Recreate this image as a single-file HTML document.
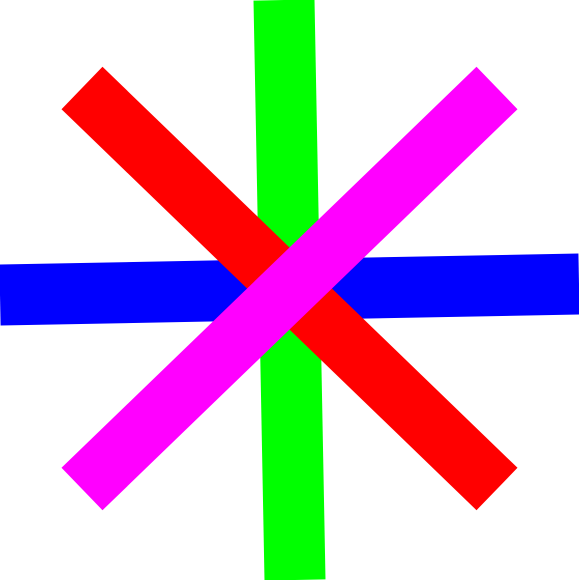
<!DOCTYPE html>
<html>
<head>
<meta charset="utf-8">
<style>
  html, body { margin: 0; padding: 0; background: #ffffff; }
  svg { display: block; }
</style>
</head>
<body>
<svg width="579" height="580" viewBox="0 0 579 580">
  <rect x="0" y="0" width="579" height="580" fill="#ffffff"/>
  <line x1="284" y1="0" x2="295" y2="580" stroke="#00ff00" stroke-width="61" stroke-linecap="butt"/>
  <line x1="0" y1="295" x2="579" y2="284" stroke="#0000ff" stroke-width="61" stroke-linecap="butt"/>
  <line x1="82" y1="88" x2="497" y2="489" stroke="#ff0000" stroke-width="59" stroke-linecap="butt"/>
  <line x1="82" y1="489" x2="497" y2="88" stroke="#ff00ff" stroke-width="59" stroke-linecap="butt"/>
</svg>
</body>
</html>
